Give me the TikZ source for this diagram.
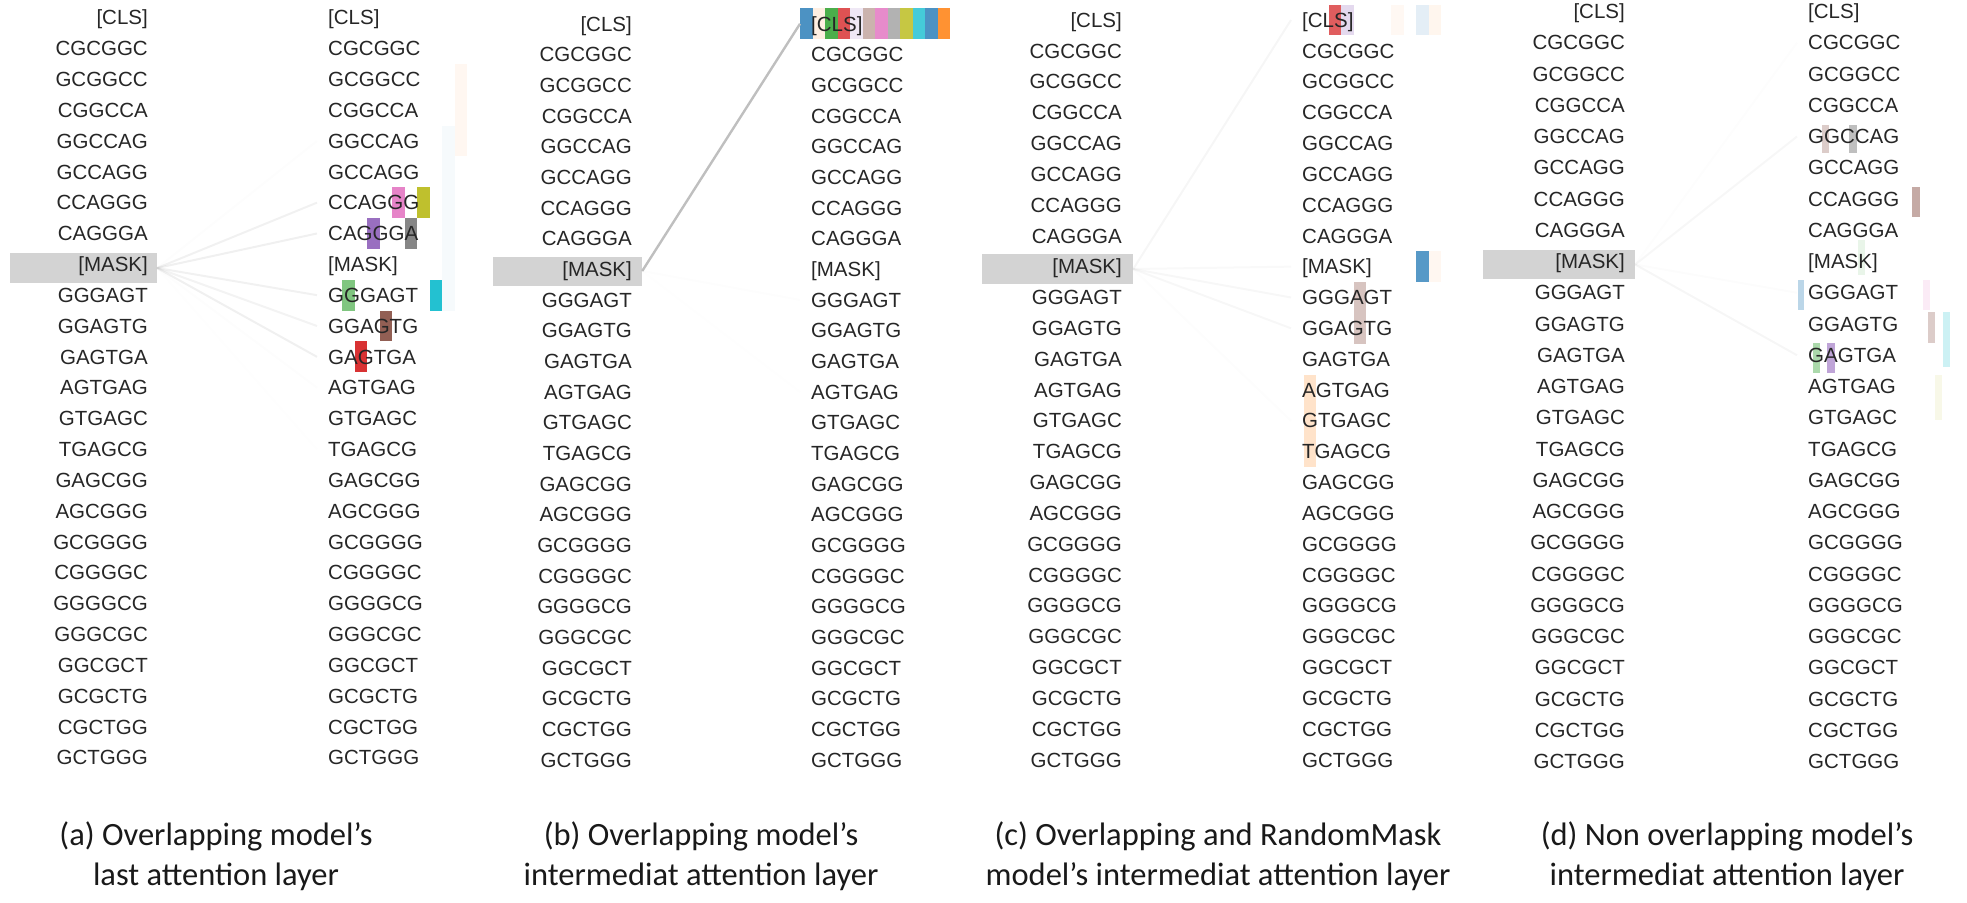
\documentclass[tikz,border=0pt]{standalone}
\usepackage{fontspec}
\setmainfont{Liberation Sans}
\newfontfamily\capfont{Carlito}
\definecolor{tBlue}{HTML}{1F77B4}
\definecolor{tOrange}{HTML}{FF7F0E}
\definecolor{tGreen}{HTML}{2CA02C}
\definecolor{tRed}{HTML}{D62728}
\definecolor{tPurple}{HTML}{9467BD}
\definecolor{tBrown}{HTML}{8C564B}
\definecolor{tPink}{HTML}{E377C2}
\definecolor{tGrey}{HTML}{7F7F7F}
\definecolor{tOlive}{HTML}{BCBD22}
\definecolor{tCyan}{HTML}{17BECF}
\definecolor{maskgray}{HTML}{D3D3D3}
\definecolor{linegray}{HTML}{B4B4B4}
\newcommand\tokenlist{{[CLS]},CGCGGC,GCGGCC,CGGCCA,GGCCAG,GCCAGG,CCAGGG,CAGGGA,{[MASK]},GGGAGT,GGAGTG,GAGTGA,AGTGAG,GTGAGC,TGAGCG,GAGCGG,AGCGGG,GCGGGG,CGGGGC,GGGGCG,GGGCGC,GGCGCT,GCGCTG,CGCTGG,GCTGGG}
% #1 name, #2 left x, #3 right x, #4 top y, #5 row step
\newcommand\tokpanel[5]{%
  \foreach \t [count=\i from 0] in \tokenlist {%
    \node[ltok] (#1l\i) at (#2, {#4+\i*#5}) {\t};
    \node[rtok] (#1r\i) at (#3, {#4+\i*#5}) {\t};
    \coordinate (#1e\i) at ({#3-11}, {#4+\i*#5});
  }}
% head bar: #1 x0, #2 top, #3 step, #4 row from, #5 row to, #6 head, #7 colour, #8 opacity
\newcommand\headbar[8]{%
  \fill[#7, opacity=#8] ({#1+12.5*#6}, {#2+(#4-0.5)*#3}) rectangle ({#1+12.5*(#6+1)}, {#2+(#5+0.5)*#3});}
\begin{document}
\begin{tikzpicture}[x=1pt,y=-1pt,
  tok/.style={inner sep=0pt, text height=14.4pt, text depth=0pt,
    font=\fontsize{20.5}{22}\selectfont, text=black!85},
  ltok/.style={tok, anchor=east},
  rtok/.style={tok, anchor=west},
  maskbox/.style={fill=maskgray, draw=none, inner sep=0pt},
  att/.style={draw=linegray, line width=2pt},
  capnode/.style={font=\capfont\fontsize{32.5}{40.5}\selectfont, align=center, text=black!90, inner sep=0pt}]
\useasboundingbox (0,0) rectangle (1967,902);

% ---------- mask highlight boxes
\node[maskbox, minimum width=147pt, minimum height=30pt] (amask) at (83.5,268) {};
\node[maskbox, minimum width=149pt, minimum height=29pt] (bmask) at (567.5,271) {};
\node[maskbox, minimum width=151pt, minimum height=30pt] (cmask) at (1057.5,269) {};
\node[maskbox, minimum width=152pt, minimum height=29pt] (dmask) at (1559,264.5) {};

% ---------- head bars (a)
\headbar{317}{17.6}{30.84}{6}{6}{6}{tPink}{0.9}
\headbar{317}{17.6}{30.84}{6}{6}{8}{tOlive}{0.95}
\headbar{317}{17.6}{30.84}{7}{7}{4}{tPurple}{0.95}
\headbar{317}{17.6}{30.84}{7}{7}{7}{tGrey}{0.95}
\headbar{317}{17.6}{30.84}{9}{9}{2}{tGreen}{0.6}
\headbar{317}{17.6}{30.84}{9}{9}{9}{tCyan}{0.95}
\headbar{317}{17.6}{30.84}{10}{10}{5}{tBrown}{0.95}
\headbar{317}{17.6}{30.84}{11}{11}{3}{tRed}{0.95}
\headbar{317}{17.6}{30.84}{2}{4}{11}{tOrange}{0.06}
\headbar{317}{17.6}{30.84}{4}{9}{10}{tBlue}{0.04}
% ---------- head bars (b)
\headbar{800}{23.8}{30.68}{0}{0}{0}{tBlue}{0.8}
\headbar{800}{23.8}{30.68}{0}{0}{1}{tOrange}{0.12}
\headbar{800}{23.8}{30.68}{0}{0}{2}{tGreen}{0.85}
\headbar{800}{23.8}{30.68}{0}{0}{3}{tRed}{0.8}
\headbar{800}{23.8}{30.68}{0}{0}{4}{tPurple}{0.15}
\headbar{800}{23.8}{30.68}{0}{0}{5}{tBrown}{0.45}
\headbar{800}{23.8}{30.68}{0}{0}{6}{tPink}{0.85}
\headbar{800}{23.8}{30.68}{0}{0}{7}{tGrey}{0.6}
\headbar{800}{23.8}{30.68}{0}{0}{8}{tOlive}{0.85}
\headbar{800}{23.8}{30.68}{0}{0}{9}{tCyan}{0.8}
\headbar{800}{23.8}{30.68}{0}{0}{10}{tBlue}{0.8}
\headbar{800}{23.8}{30.68}{0}{0}{11}{tOrange}{0.85}
% ---------- head bars (c)
\headbar{1291}{20}{30.83}{0}{0}{3}{tRed}{0.75}
\headbar{1291}{20}{30.83}{0}{0}{4}{tPurple}{0.25}
\headbar{1291}{20}{30.83}{0}{0}{8}{tOrange}{0.05}
\headbar{1291}{20}{30.83}{0}{0}{10}{tBlue}{0.12}
\headbar{1291}{20}{30.83}{0}{0}{11}{tOrange}{0.07}
\headbar{1291}{20}{30.83}{8}{8}{10}{tBlue}{0.75}
\headbar{1291}{20}{30.83}{8}{8}{11}{tOrange}{0.06}
\headbar{1291}{20}{30.83}{9}{10}{5}{tBrown}{0.35}
\headbar{1291}{20}{30.83}{12}{14}{1}{tOrange}{0.22}
% ---------- head bars (d)
\fill[tBrown, opacity=0.3] (1822,125) rectangle (1829,153);
\fill[tGrey, opacity=0.5] (1849,125) rectangle (1857,153);
\fill[tBrown, opacity=0.5] (1912,187) rectangle (1920,217);
\fill[tBlue, opacity=0.3] (1798,280) rectangle (1804,310);
\fill[tPink, opacity=0.15] (1923,280) rectangle (1930,310);
\fill[tBrown, opacity=0.3] (1928,312) rectangle (1935,343);
\fill[tCyan, opacity=0.22] (1943,312) rectangle (1950,367);
\fill[tGreen, opacity=0.4] (1813,343) rectangle (1820,373);
\fill[tPurple, opacity=0.6] (1827,343) rectangle (1835,373);
\fill[tOlive, opacity=0.1] (1935,375) rectangle (1942,420);
\fill[tGreen, opacity=0.1] (1858,240) rectangle (1865,275);

% ---------- tokens
\tokpanel{a}{148}{328}{17.6}{30.84}
\tokpanel{b}{632}{811}{23.8}{30.68}
\tokpanel{c}{1122}{1302}{20}{30.83}
\tokpanel{d}{1625}{1808}{11.5}{31.25}

% ---------- attention lines (a)
\foreach \r/\o in {6/0.18,7/0.2,9/0.18,10/0.16,11/0.2,4/0.03,12/0.03,14/0.02}
  \draw[att, opacity=\o] (amask.east) -- (ae\r);
% (b)
\draw[att, draw=gray!50, line width=2.4pt] (bmask.east) -- (be0);
\foreach \r/\o in {9/0.03,12/0.02}
  \draw[att, opacity=\o] (bmask.east) -- (be\r);
% (c)
\foreach \r/\o in {0/0.12,8/0.08,9/0.1,10/0.1,13/0.03}
  \draw[att, opacity=\o] (cmask.east) -- (ce\r);
% (d)
\foreach \r/\o in {4/0.1,11/0.12,9/0.04,1/0.03}
  \draw[att, opacity=\o] (dmask.east) -- (de\r);

% ---------- captions
\node[capnode] (capa) at (216,856) {(a) Overlapping model’s\\last attention layer};
\node[capnode] (capb) at (701,856) {(b) Overlapping model’s\\intermediat attention layer};
\node[capnode] (capc) at (1218,856) {(c) Overlapping and RandomMask\\model’s intermediat attention layer};
\node[capnode] (capd) at (1727,856) {(d) Non overlapping model’s\\intermediat attention layer};
\end{tikzpicture}
\end{document}
